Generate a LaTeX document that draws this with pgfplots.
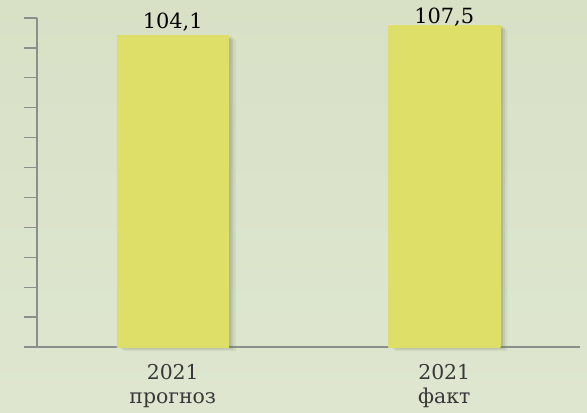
\documentclass[border=0pt]{standalone}
\usepackage{fontspec}
\setmainfont{DejaVu Serif}
\usepackage{pgfplots}
\pgfplotsset{compat=1.18}
\definecolor{bgtop}{RGB}{216,225,198}
\definecolor{bgbot}{RGB}{222,230,208}
\definecolor{barmain}{RGB}{222,223,104}
\definecolor{barlight}{RGB}{242,242,124}
\definecolor{axisgray}{RGB}{140,144,138}
\definecolor{shadowc}{RGB}{110,120,100}
\pgfdeclarehorizontalshading{barshade}{100bp}{color(0bp)=(barlight); color(3bp)=(barlight); color(7bp)=(barmain); color(100bp)=(barmain)}
\tikzset{vallabel/.style={font=\fontsize{21}{21}\selectfont, text=black, anchor=base, /pgf/number format/assume math mode=true, /pgf/number format/fixed, /pgf/number format/fixed zerofill, /pgf/number format/precision=1, /pgf/number format/use comma}}
\begin{document}
\begin{tikzpicture}
\shade[top color=bgtop, bottom color=bgbot] (0,0) rectangle (587bp,413bp);
\begin{axis}[
  at={(37bp,66bp)}, anchor=south west,
  scale only axis, width=543bp, height=329bp,
  xmin=-0.5, xmax=1.5, ymin=0, ymax=110,
  axis x line=bottom, axis y line=left,
  axis line style={-, draw=axisgray, line width=1.2bp},
  xtick={0,1},
  xticklabels={{2021\\прогноз},{2021\\факт}},
  x tick label style={align=center, font=\fontsize{20.5}{24}\selectfont, text=black!78, yshift=-1bp},
  xtick style={draw=none},
  ytick={0,10,...,110},
  yticklabels={},
  y tick style={draw=axisgray, line width=1.2bp},
  tick align=outside,
  major tick length=13bp,
  ybar, bar width=112bp,
  clip=false,
]
\addplot[draw=none, fill=shadowc, fill opacity=0.10, bar shift=7bp, /tikz/yshift=-4bp]
  coordinates {(0,104.1) (1,107.5)};
\addplot[draw=none, fill=shadowc, fill opacity=0.16, bar shift=4.5bp, /tikz/yshift=-2.5bp]
  coordinates {(0,104.1) (1,107.5)};
\addplot[draw=none, fill=shadowc, fill opacity=0.20, bar shift=2.5bp, /tikz/yshift=-1bp]
  coordinates {(0,104.1) (1,107.5)};
\addplot[draw=none, shading=barshade, bar shift=0pt,
  nodes near coords,
  every node near coord/.append style={vallabel, yshift=7bp}]
  coordinates {(0,104.1)};
\addplot[draw=none, shading=barshade, bar shift=0pt,
  nodes near coords,
  every node near coord/.append style={vallabel, yshift=2bp}]
  coordinates {(1,107.5)};
\end{axis}
\pgfresetboundingbox
\path[use as bounding box] (0,0) rectangle (587bp,413bp);
\end{tikzpicture}
\end{document}
